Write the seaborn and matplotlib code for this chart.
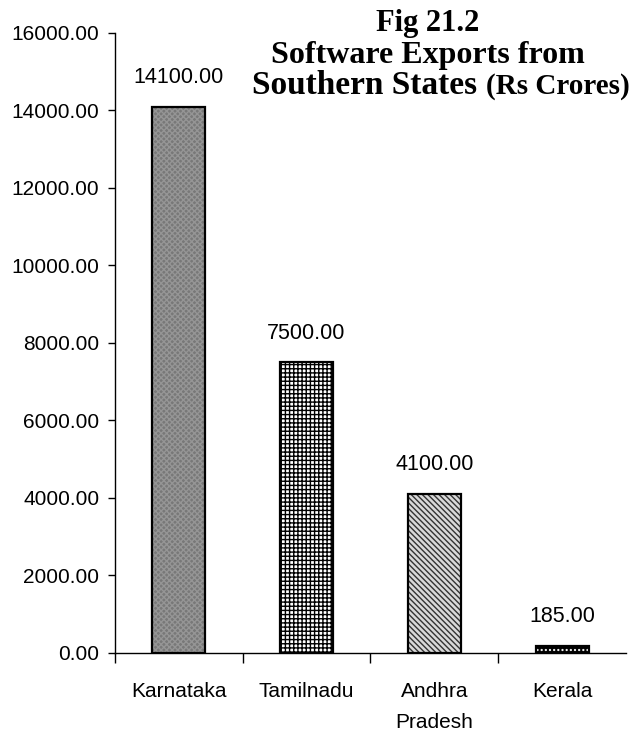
import matplotlib
matplotlib.use("Agg")
import matplotlib.pyplot as plt
import seaborn as sns
import pandas as pd
from matplotlib.patches import Rectangle
from matplotlib.ticker import FormatStrFormatter, FixedLocator

# data
states = ["Karnataka", "Tamilnadu", "Andhra\nPradesh", "Kerala"]
exports = [14100, 7500, 4100, 185]
value_labels = ["14100.00", "7500.00", "4100.00", "185.00"]

# bar styles (face colour, hatch, hatch colour)
faces = ["#787878", "white", "#d9d9d9", "black"]
hatches = ["xxxxxx", "++++", "\\\\\\\\\\\\", "...."]
hatch_cols = ["#959595", "black", "#333333", "white"]

df = pd.DataFrame({"state": states, "exports": exports})

sns.set_style("white")
plt.rcParams["font.family"] = ["Liberation Sans", "DejaVu Sans"]
plt.rcParams["text.color"] = "black"
plt.rcParams["xtick.color"] = "black"
plt.rcParams["ytick.color"] = "black"
plt.rcParams["hatch.linewidth"] = 1.0

W, H = 641, 731
fig = plt.figure(figsize=(W / 100, H / 100), dpi=100)
ax = fig.add_axes([0.179, 0.107, 0.798, 0.848])

sns.barplot(data=df, x="state", y="exports", ax=ax, width=0.41,
            color="white", saturation=1)

for i, p in enumerate(ax.patches):
    p.set_facecolor(faces[i])
    p.set_hatch(hatches[i])
    p.set_edgecolor(hatch_cols[i])
    p.set_linewidth(0)
    # black outline on top of the hatched bar
    ax.add_patch(Rectangle((p.get_x(), p.get_y()), p.get_width(), p.get_height(),
                           fill=False, edgecolor="black", linewidth=1.6, zorder=3))
    ax.annotate(value_labels[i], (p.get_x() + p.get_width() / 2, p.get_height()),
                xytext=(0, 17), textcoords="offset points",
                ha="center", va="baseline", fontsize=15.5)

ax.set_ylim(0, 16000)
ax.set_xlim(-0.5, 3.5)
ax.set_yticks(range(0, 16001, 2000))
ax.yaxis.set_major_formatter(FormatStrFormatter("%.2f"))
ax.tick_params(axis="y", length=5, width=1, direction="out", labelsize=15, pad=6, left=True)

# category boundary ticks on x axis
ax.set_xticks(range(len(states)))
ax.set_xticklabels(states, linespacing=1.8)
ax.xaxis.set_minor_locator(FixedLocator([-0.5, 0.5, 1.5, 2.5]))
ax.tick_params(axis="x", which="minor", length=7, width=1, direction="out", bottom=True)
ax.tick_params(axis="x", which="major", length=0, labelsize=15, pad=21)

ax.set_xlabel("")
ax.set_ylabel("")
for s in ["top", "right"]:
    ax.spines[s].set_visible(False)
for s in ["left", "bottom"]:
    ax.spines[s].set_color("black")
    ax.spines[s].set_linewidth(1)

# title block, serif bold like the original
serif = "Liberation Serif"
fig.text(428 / W, 1 - 31 / H, "Fig 21.2", ha="center", va="baseline",
         fontsize=22, fontweight="bold", family=serif)
fig.text(428 / W, 1 - 63 / H, "Software Exports from", ha="center", va="baseline",
         fontsize=23, fontweight="bold", family=serif)

# last line: "(Rs Crores)" is set a little smaller
r = fig.canvas.get_renderer()
t_a = fig.text(0, 1 - 94 / H, "Southern States ", ha="left", va="baseline",
               fontsize=24, fontweight="bold", family=serif)
t_b = fig.text(0, 1 - 94 / H, "(Rs Crores)", ha="left", va="baseline",
               fontsize=21, fontweight="bold", family=serif)
wa = t_a.get_window_extent(r).width
wb = t_b.get_window_extent(r).width
x0 = 441 - (wa + wb) / 2
t_a.set_x(x0 / W)
t_b.set_x((x0 + wa) / W)

fig.savefig("out.png", dpi=100)
